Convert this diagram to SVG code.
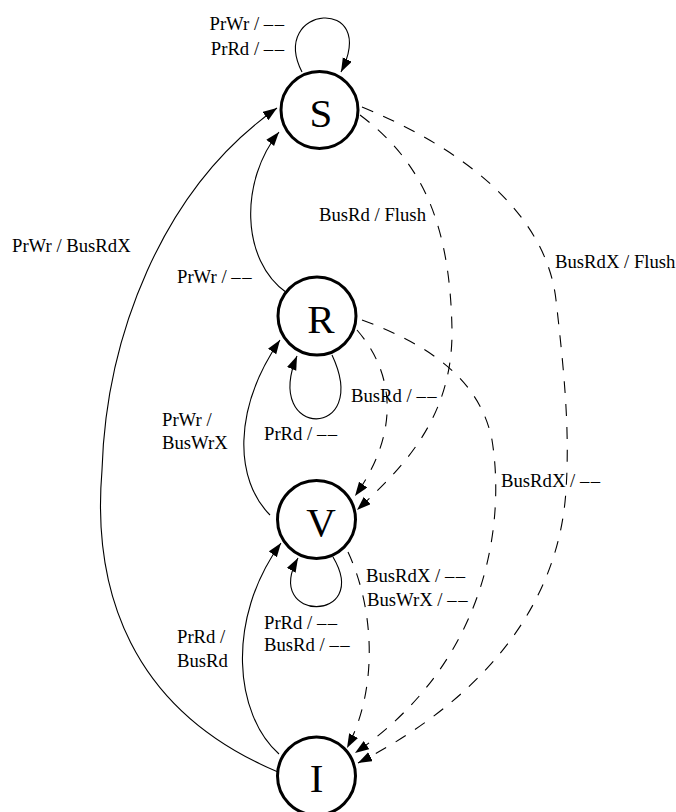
<svg xmlns="http://www.w3.org/2000/svg" width="676" height="812" viewBox="0 0 676 812">
<style>
.node{fill:none;stroke:#000;stroke-width:3}
.nl{font-family:"Liberation Serif","Times New Roman",serif;font-size:41px;text-anchor:middle;fill:#000}
.e{fill:none;stroke:#000;stroke-width:1.1;marker-end:url(#ah)}
.d{stroke-dasharray:12 11}
.lb{font-family:"Liberation Serif","Times New Roman",serif;font-size:18.7px;fill:#000}
</style>
<defs>
<marker id="ah" markerUnits="userSpaceOnUse" markerWidth="16" markerHeight="12" refX="14" refY="5" orient="auto">
<path d="M0,0 L14,5 L0,10 z" fill="#000"/>
</marker>
</defs>
<rect width="676" height="812" fill="#fff"/>
<g id="nodes">
<g id="S"><circle class="node" cx="319.5" cy="110" r="38.5"/><text class="nl" x="321" y="127">S</text></g>
<g id="R"><circle class="node" cx="317" cy="316" r="39"/><text class="nl" x="321" y="333">R</text></g>
<g id="V"><circle class="node" cx="316.5" cy="519.5" r="39"/><text class="nl" x="321" y="536">V</text></g>
<g id="I"><circle class="node" cx="316.5" cy="776" r="39"/><text class="nl" x="316.5" y="792">I</text></g>
</g>
<g id="connectors">
<path class="e" d="M302,72 C268,5 380,-5 341,72"/>
<path class="e" d="M278,772 C130,710 92,590 102,470 C106,340 160,190 277,108"/>
<path class="e" d="M287,293 C240,260 240,180 279,132"/>
<path class="e" d="M332,355 C372,440 262,440 297,356"/>
<path class="e" d="M270,515 C235,480 232,410 280,340"/>
<path class="e" d="M279,754 C235,715 225,620 281,543"/>
<path class="e" d="M333,557 C372,623 262,623 298,558"/>
<path class="e d" d="M360,115 C420,160 450,220 452,330 C453,420 400,470 357,510"/>
<path class="e d" d="M357,330 C400,380 395,440 355,496"/>
<path class="e d" d="M362,107 C490,160 548,230 556,300 C564,370 570,430 566,490 C560,590 500,690 358,763"/>
<path class="e d" d="M362,320 C430,345 480,380 492,440 C505,520 490,660 355,753"/>
<path class="e d" d="M348,552 C375,610 378,690 347,748"/>
</g>
<g id="labels">
<text class="lb" x="284" y="30" text-anchor="end">PrWr / –&#8202;–</text>
<text class="lb" x="284" y="55" text-anchor="end">PrRd / –&#8202;–</text>
<text class="lb" x="12" y="252">PrWr / BusRdX</text>
<text class="lb" x="177" y="283">PrWr / –&#8202;–</text>
<text class="lb" x="319" y="221">BusRd / Flush</text>
<text class="lb" x="555" y="268">BusRdX / Flush</text>
<text class="lb" x="162" y="426">PrWr /</text>
<text class="lb" x="162" y="449">BusWrX</text>
<text class="lb" x="351" y="402">BusRd / –&#8202;–</text>
<text class="lb" x="264" y="440">PrRd / –&#8202;–</text>
<text class="lb" x="501" y="487">BusRdX / –&#8202;–</text>
<text class="lb" x="366" y="582">BusRdX / –&#8202;–</text>
<text class="lb" x="367" y="606">BusWrX / –&#8202;–</text>
<text class="lb" x="264" y="629">PrRd / –&#8202;–</text>
<text class="lb" x="264" y="651">BusRd / –&#8202;–</text>
<text class="lb" x="177" y="643">PrRd /</text>
<text class="lb" x="177" y="667">BusRd</text>
</g>
</svg>
